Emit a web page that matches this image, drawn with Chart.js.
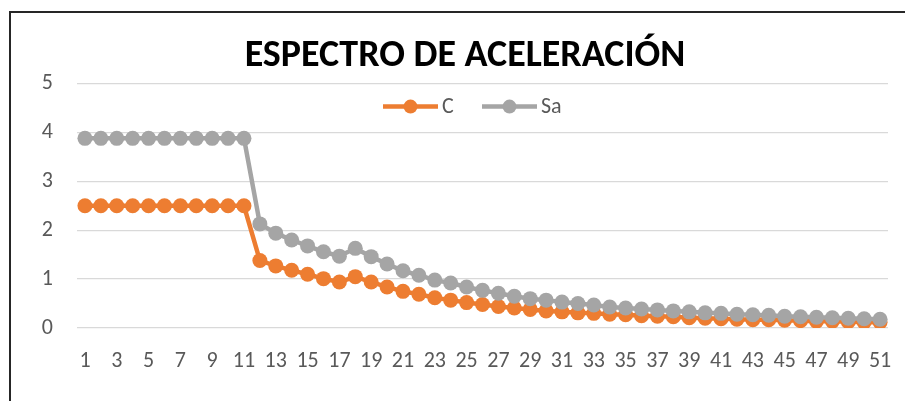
<!DOCTYPE html>
<html>
<head>
<meta charset="utf-8">
<script src="https://cdn.jsdelivr.net/npm/chart.js@4/dist/chart.umd.min.js"></script>
<style>
  html, body { margin: 0; padding: 0; background: #fff; overflow: hidden; }
  #wrap { position: relative; width: 905px; height: 401px; }
  #frame { position: absolute; left: 9px; top: 11px; width: 1000px; height: 500px; border: 2px solid #262626; box-sizing: border-box; pointer-events: none; }
  canvas { position: absolute; left: 0; top: 0; }
</style>
</head>
<body>
<div id="wrap">
  <canvas id="chartViz" width="905" height="401"></canvas>
  <div id="frame"></div>
</div>
<script>
var periods = [];
for (var i = 1; i <= 51; i++) { periods.push(String(i)); }

var cValues = [2.5, 2.5, 2.5, 2.5, 2.5, 2.5, 2.5, 2.5, 2.5, 2.5, 2.5,
    1.38, 1.27, 1.18, 1.10, 1.01, 0.94, 1.05, 0.94, 0.84, 0.75,
    0.69, 0.62, 0.57, 0.52, 0.48, 0.44, 0.41, 0.38, 0.35, 0.33,
    0.31, 0.30, 0.28, 0.27, 0.25, 0.24, 0.23, 0.21, 0.20, 0.19,
    0.18, 0.17, 0.17, 0.16, 0.15, 0.14, 0.14, 0.13, 0.12, 0.12];

var saValues = [3.88, 3.88, 3.88, 3.88, 3.88, 3.88, 3.88, 3.88, 3.88, 3.88, 3.88,
    2.13, 1.94, 1.80, 1.68, 1.56, 1.47, 1.63, 1.46, 1.31, 1.17,
    1.08, 0.98, 0.92, 0.84, 0.77, 0.71, 0.65, 0.60, 0.57, 0.53,
    0.50, 0.47, 0.43, 0.41, 0.39, 0.37, 0.35, 0.33, 0.31, 0.30,
    0.28, 0.27, 0.26, 0.24, 0.23, 0.22, 0.21, 0.20, 0.19, 0.18];

var orange = "#ED7D31";
var grey = "#A5A5A5";
var fontFamily = 'Carlito, Calibri, Lato, "Open Sans", sans-serif';

// legend drawn like Excel's: line with marker in the middle
var lineLegend = {
    id: "lineLegend",
    afterDraw: function (chart) {
        var ctx = chart.ctx;
        var y = chart.chartArea.top + 23;
        var items = [
            { label: "C", color: orange, x: 383 },
            { label: "Sa", color: grey, x: 482 }
        ];
        ctx.save();
        ctx.font = "22px " + fontFamily;
        ctx.textBaseline = "middle";
        items.forEach(function (it) {
            ctx.strokeStyle = it.color;
            ctx.lineWidth = 4.5;
            ctx.beginPath();
            ctx.moveTo(it.x, y);
            ctx.lineTo(it.x + 55, y);
            ctx.stroke();
            ctx.fillStyle = it.color;
            ctx.beginPath();
            ctx.arc(it.x + 27.5, y, 7, 0, Math.PI * 2);
            ctx.fill();
            ctx.fillStyle = "#595959";
            ctx.fillText(it.label, it.x + 59, y + 1);
        });
        ctx.restore();
    }
};

window.onload = function () {
    var context = document.getElementById("chartViz").getContext("2d");
    var config = {
        type: "line",
        data: {
            labels: periods,
            datasets: [
                {
                    label: "C",
                    data: cValues,
                    borderColor: orange,
                    backgroundColor: orange,
                    borderWidth: 4.5,
                    pointRadius: 7.5,
                    pointBorderWidth: 0,
                    fill: false,
                    order: 2
                },
                {
                    label: "Sa",
                    data: saValues,
                    borderColor: grey,
                    backgroundColor: grey,
                    borderWidth: 4.5,
                    pointRadius: 7.5,
                    pointBorderWidth: 0,
                    fill: false,
                    order: 1
                }
            ]
        },
        options: {
            responsive: false,
            animation: false,
            layout: { padding: { left: 42, right: 17, top: 20, bottom: 29 } },
            plugins: {
                legend: { display: false },
                tooltip: { enabled: false },
                title: {
                    display: true,
                    text: "ESPECTRO DE ACELERACIÓN",
                    color: "#000",
                    font: { family: fontFamily, size: 38, weight: "bold" },
                    padding: { top: 14, bottom: 4 }
                }
            },
            scales: {
                x: {
                    offset: true,
                    grid: { display: false },
                    border: { display: false },
                    afterFit: function (scale) { scale.height = 44; },
                    ticks: {
                        autoSkip: false,
                        maxRotation: 0,
                        padding: 12,
                        color: "#595959",
                        font: { family: fontFamily, size: 22 },
                        callback: function (val, index) {
                            return index % 2 === 0 ? this.getLabelForValue(val) : "";
                        }
                    }
                },
                y: {
                    min: 0,
                    max: 5,
                    grid: { color: "#D9D9D9", lineWidth: 1.3, drawTicks: false },
                    border: { display: false },
                    afterFit: function (scale) { scale.width = 35; },
                    ticks: {
                        stepSize: 1,
                        padding: 24,
                        color: "#595959",
                        font: { family: fontFamily, size: 22 }
                    }
                }
            }
        },
        plugins: [lineLegend]
    };
    new Chart(context, config);
};
</script>
</body>
</html>
